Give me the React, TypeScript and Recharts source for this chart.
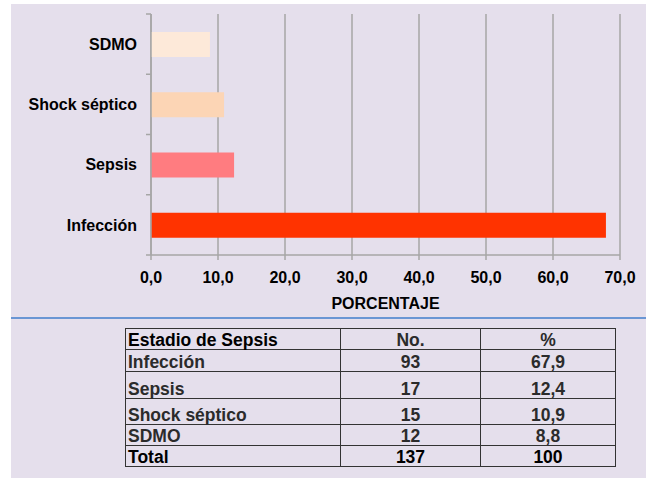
import React from 'react';
import { BarChart, Bar, XAxis, YAxis, CartesianGrid, Cell } from 'recharts';

// chart values (top to bottom as drawn)
const categories = ['SDMO', 'Shock séptico', 'Sepsis', 'Infección'];
const percents = [8.8, 10.9, 12.4, 67.9];
const xTicks = [0, 10, 20, 30, 40, 50, 60, 70];

// table values
const tableHeader = ['Estadio de Sepsis', 'No.', '%'];
const tableStages = ['Infección', 'Sepsis', 'Shock séptico', 'SDMO', 'Total'];
const tableCounts = ['93', '17', '15', '12', '137'];
const tablePercents = ['67,9', '12,4', '10,9', '8,8', '100'];

const barColors = ['#FDE9D9', '#FCD5B5', '#FF7C80', '#FF3300'];
const rowHeights = [21, 22, 27, 26, 21, 21];
const FONT = '"Liberation Sans", Arial, sans-serif';
const GRID = '#A6A6A6';

const chartData = categories.map((name, i) => ({ name, value: percents[i] }));

const fmt = (v: number) => v.toFixed(1).replace('.', ',');

const BAND_HALF = (255 - 14) / categories.length / 2;

const CategoryTick = (props: any) => {
  const { x, y, payload, index } = props;
  const axisX = x + 14;
  return (
    <g>
      <line x1={axisX - 5} x2={axisX} y1={y - BAND_HALF} y2={y - BAND_HALF} stroke={GRID} strokeWidth={1.5} />
      {index === categories.length - 1 && (
        <line x1={axisX - 5} x2={axisX} y1={y + BAND_HALF} y2={y + BAND_HALF} stroke={GRID} strokeWidth={1.5} />
      )}
      <text x={x} y={y} dy="0.355em" textAnchor="end" fontSize={16} fontWeight={700} fill="#000" fontFamily={FONT}>
        {payload.value}
      </text>
    </g>
  );
};

const cellStyle = (col: number, dark: boolean): React.CSSProperties => ({
  border: '1.5px solid #333',
  padding: '0 2px',
  verticalAlign: 'bottom',
  lineHeight: '18px',
  textAlign: col === 0 ? 'left' : 'center',
  color: dark ? '#000' : '#2b2b2b',
  fontWeight: 700,
  fontSize: 17.5,
});

export default function App() {
  return (
    <div style={{ position: 'absolute', left: 0, top: 0, width: 646, height: 478, background: '#fff', fontFamily: FONT }}>
      <div style={{ position: 'absolute', left: 11, top: 4, width: 635, height: 474, background: '#E5DFEC' }} />
      <div style={{ position: 'absolute', left: 0, top: 0 }}>
        <BarChart
          width={646}
          height={320}
          data={chartData}
          layout="vertical"
          margin={{ top: 14, right: 26, left: 11, bottom: 5 }}
          barSize={25}
        >
          <CartesianGrid horizontal={false} stroke={GRID} strokeWidth={1.5} />
          <XAxis
            type="number"
            domain={[0, 70]}
            ticks={xTicks}
            tickFormatter={fmt}
            height={60}
            stroke={GRID}
            strokeWidth={1.5}
            tickSize={5}
            tickMargin={12}
            tick={{ fontSize: 16, fontWeight: 700, fill: '#000', fontFamily: FONT }}
            label={{ value: 'PORCENTAJE', position: 'insideBottom', offset: 6, fontSize: 16, fontWeight: 700, fill: '#000', fontFamily: FONT }}
          />
          <YAxis
            type="category"
            dataKey="name"
            width={140}
            stroke={GRID}
            strokeWidth={1.5}
            tickLine={false}
            tickSize={5}
            tickMargin={9}
            tick={<CategoryTick />}
            interval={0}
          />
          <Bar dataKey="value" isAnimationActive={false}>
            {chartData.map((d, i) => (
              <Cell key={d.name} fill={barColors[i]} />
            ))}
          </Bar>
        </BarChart>
      </div>
      <div style={{ position: 'absolute', left: 11, top: 317, width: 635, height: 2, background: '#6A96D4' }} />
      <table
        style={{
          position: 'absolute',
          left: 125,
          top: 328,
          width: 490,
          borderCollapse: 'collapse',
          tableLayout: 'fixed',
        }}
      >
        <colgroup>
          <col style={{ width: 215 }} />
          <col style={{ width: 140 }} />
          <col style={{ width: 135 }} />
        </colgroup>
        <tbody>
          <tr style={{ height: rowHeights[0] }}>
            {tableHeader.map((h, c) => (
              <td key={h} style={cellStyle(c, c === 0)}>{h}</td>
            ))}
          </tr>
          {tableStages.map((s, r) => {
            const dark = s === 'Total';
            return (
              <tr key={s} style={{ height: rowHeights[r + 1] }}>
                <td style={cellStyle(0, dark)}>{s}</td>
                <td style={cellStyle(1, dark)}>{tableCounts[r]}</td>
                <td style={cellStyle(2, dark)}>{tablePercents[r]}</td>
              </tr>
            );
          })}
        </tbody>
      </table>
    </div>
  );
}
